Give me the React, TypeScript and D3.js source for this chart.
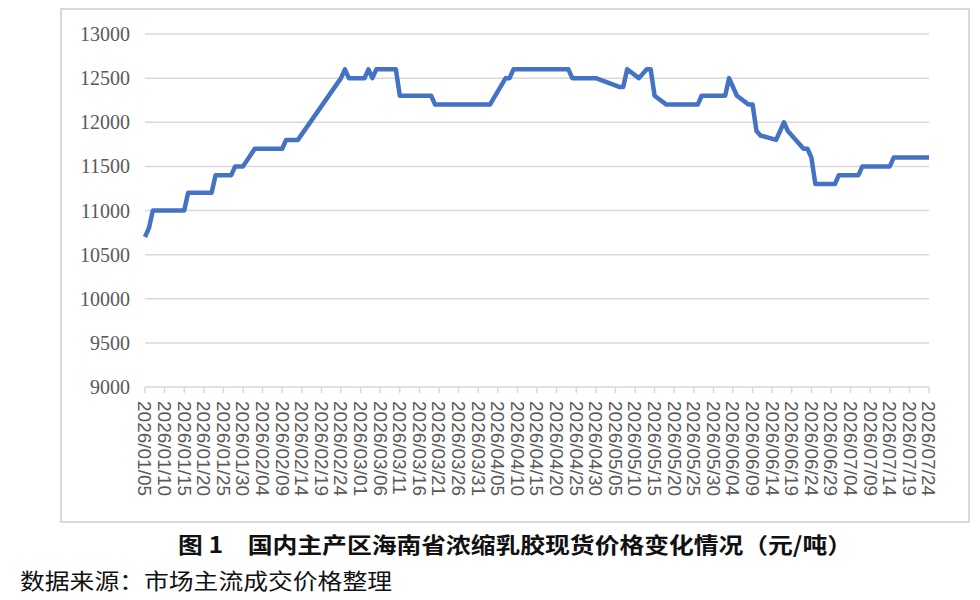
import * as d3 from "d3";

// 海南省浓缩乳胶现货价格（元/吨）
const priceDates = [
  "2026/01/05", "2026/01/06", "2026/01/07", "2026/01/15", "2026/01/16", "2026/01/22",
  "2026/01/23", "2026/01/27", "2026/01/28", "2026/01/30", "2026/02/02", "2026/02/09",
  "2026/02/10", "2026/02/13", "2026/02/24", "2026/02/25", "2026/02/26", "2026/03/02",
  "2026/03/03", "2026/03/04", "2026/03/05", "2026/03/10", "2026/03/11", "2026/03/19",
  "2026/03/20", "2026/04/03", "2026/04/07", "2026/04/08", "2026/04/09", "2026/04/23",
  "2026/04/24", "2026/04/30", "2026/05/06", "2026/05/07", "2026/05/08", "2026/05/11",
  "2026/05/13", "2026/05/14", "2026/05/15", "2026/05/18", "2026/05/26", "2026/05/27",
  "2026/06/02", "2026/06/03", "2026/06/05", "2026/06/08", "2026/06/09", "2026/06/10",
  "2026/06/11", "2026/06/15", "2026/06/17", "2026/06/18", "2026/06/22", "2026/06/23",
  "2026/06/24", "2026/06/25", "2026/06/30", "2026/07/01", "2026/07/06", "2026/07/07",
  "2026/07/14", "2026/07/15", "2026/07/24",
];
const priceValues = [
  10700, 10800, 11000, 11000, 11200, 11200,
  11400, 11400, 11500, 11500, 11700, 11700,
  11800, 11800, 12500, 12600, 12500, 12500,
  12600, 12500, 12600, 12600, 12300, 12300,
  12200, 12200, 12500, 12500, 12600, 12600,
  12500, 12500, 12400, 12400, 12600, 12500,
  12600, 12600, 12300, 12200, 12200, 12300,
  12300, 12500, 12300, 12200, 12200, 11900,
  11850, 11800, 12000, 11900, 11700, 11700,
  11600, 11300, 11300, 11400, 11400, 11500,
  11500, 11600, 11600,
];

const axisStart = "2026/01/05";
const axisEnd = "2026/07/24";
const tickStepDays = 5;
const yTicks = [9000, 9500, 10000, 10500, 11000, 11500, 12000, 12500, 13000];

const chartTitle = "图 1\u3000国内主产区海南省浓缩乳胶现货价格变化情况（元/吨）";
const sourceNote = "数据来源：市场主流成交价格整理";

const parse = d3.timeParse("%Y/%m/%d");
const fmt = d3.timeFormat("%Y/%m/%d");

export default function App() {
  const width = 980;
  const height = 600;
  const left = 145;
  const right = 929;
  const top = 34;
  const bottom = 387;

  const start = parse(axisStart)!;
  const end = parse(axisEnd)!;
  const x = d3.scaleTime().domain([start, end]).range([left, right]);
  const y = d3.scaleLinear().domain([9000, 13000]).range([bottom, top]);

  const tickDates = d3.timeDay
    .range(start, d3.timeDay.offset(end, 1))
    .filter((_, i) => i % tickStepDays === 0);

  const points = priceDates.map((d, i) => ({ date: parse(d)!, value: priceValues[i] }));
  const path =
    d3
      .line<{ date: Date; value: number }>()
      .x((d) => x(d.date))
      .y((d) => y(d.value))(points) ?? "";

  const grid = "#d9d9d9";

  return (
    <svg
      width={width}
      height={height}
      style={{ position: "absolute", left: 0, top: 0, display: "block", background: "#fff" }}
    >
      <rect x={61} y={9} width={908} height={513} fill="#fff" stroke={grid} strokeWidth={2} />

      {yTicks.map((t) => (
        <g key={t}>
          <line x1={left} x2={right} y1={y(t)} y2={y(t)} stroke={grid} strokeWidth={1.5} />
          <text
            x={130}
            y={y(t)}
            dy="0.35em"
            textAnchor="end"
            fontFamily="'Liberation Serif', 'Times New Roman', serif"
            fontSize={20}
            fill="#595959"
          >
            {t}
          </text>
        </g>
      ))}

      {tickDates.map((d) => (
        <g key={+d}>
          <line x1={x(d)} x2={x(d)} y1={bottom} y2={bottom + 6} stroke={grid} strokeWidth={1.5} />
          <text
            transform={`translate(${x(d)},${bottom + 14}) rotate(90)`}
            dy="0.35em"
            fontFamily="'Liberation Sans', Arial, sans-serif"
            fontSize={19}
            fill="#595959"
          >
            {fmt(d)}
          </text>
        </g>
      ))}

      <path d={path} fill="none" stroke="#4472C4" strokeWidth={4.5} strokeLinejoin="round" />

      <text
        x={178}
        y={553}
        textLength={674}
        lengthAdjust="spacingAndGlyphs"
        fontFamily="'Noto Sans CJK SC', sans-serif"
        fontWeight="bold"
        fontSize={22}
        fill="#111"
      >
        {chartTitle}
      </text>
      <text
        x={20}
        y={589}
        textLength={372}
        lengthAdjust="spacingAndGlyphs"
        fontFamily="'Noto Sans CJK SC', sans-serif"
        fontSize={22}
        fill="#111"
      >
        {sourceNote}
      </text>
    </svg>
  );
}
